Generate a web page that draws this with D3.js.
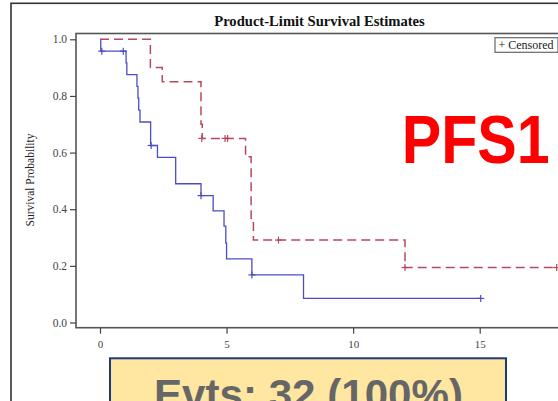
<!DOCTYPE html>
<html>
<head>
<meta charset="utf-8">
<script src="https://cdn.jsdelivr.net/npm/d3@7/dist/d3.min.js"></script>
<style>
  html, body { margin: 0; padding: 0; background: #fff; }
  svg { display: block; }
</style>
</head>
<body>
<svg id="chart" width="558" height="401"></svg>
<script>
// Kaplan-Meier step points: [time, survival after that time]
const armBSteps = [
  [0, 1.0], [0.03, 0.958], [1.03, 0.917], [1.06, 0.875], [1.46, 0.834],
  [1.50, 0.792], [1.53, 0.75], [1.58, 0.708], [2.0, 0.625], [2.27, 0.583],
  [2.99, 0.49], [3.99, 0.448], [4.47, 0.394], [4.9, 0.34], [4.97, 0.28],
  [5.0, 0.225], [6.0, 0.168], [8.04, 0.085], [15.04, 0.085]
];
const armBCensored = [
  [0.07, 0.958], [0.92, 0.958], [2.02, 0.625], [3.99, 0.448], [6.0, 0.168], [15.04, 0.085]
];
const armASteps = [
  [0, 1.0], [1.99, 0.9], [2.46, 0.85], [3.99, 0.70], [4.04, 0.65],
  [5.75, 0.585], [5.97, 0.368], [6.06, 0.291], [12.05, 0.194], [18.04, 0.194]
];
const armACensored = [
  [4.02, 0.65], [4.94, 0.65], [5.04, 0.65], [7.05, 0.291], [12.05, 0.194], [18.04, 0.194]
];
const xTicks = [0, 5, 10, 15];
const yTicks = [0, 0.2, 0.4, 0.6, 0.8, 1.0];

const titleText = "Product-Limit Survival Estimates";
const yTitle = "Survival Probability";
const legendText = "+ Censored";
const badgeText = "PFS1";
const eventsText = "Evts: 32 (100%)";

const blue = "#4c4cc8";
const red = "#b9485c";
const serif = "'Liberation Serif', 'DejaVu Serif', serif";
const sans = "'Liberation Sans', Arial, sans-serif";

const svg = d3.select("#chart");

const x = d3.scaleLinear().domain([0, 15]).range([100, 479.7]);
const y = d3.scaleLinear().domain([0, 1]).range([322.5, 39.3]);

// page frame
svg.append("rect")
  .attr("x", 11).attr("y", 3.3).attr("width", 600).attr("height", 450)
  .attr("fill", "#fff").attr("stroke", "#333").attr("stroke-width", 1.6);

// title
svg.append("text")
  .attr("x", 319.5).attr("y", 26)
  .attr("text-anchor", "middle")
  .attr("font-family", serif).attr("font-weight", "bold").attr("font-size", 14.6)
  .attr("fill", "#111")
  .text(titleText);

// plot frame
const frame = { left: 76, top: 33.5, bottom: 327.7, right: 600 };
svg.append("rect")
  .attr("x", frame.left).attr("y", frame.top)
  .attr("width", frame.right - frame.left).attr("height", frame.bottom - frame.top)
  .attr("fill", "none").attr("stroke", "#555").attr("stroke-width", 1.6);

// y axis
const yAxis = svg.append("g")
  .attr("transform", `translate(${frame.left},0)`)
  .call(d3.axisLeft(y).tickValues(yTicks).tickFormat(d3.format(".1f")).tickSize(6).tickPadding(3));
yAxis.select(".domain").remove();
yAxis.selectAll("line").attr("stroke", "#444").attr("stroke-width", 1.2);
yAxis.selectAll("text")
  .attr("font-family", serif).attr("font-size", 11.5).attr("fill", "#444");

// x axis
const xAxis = svg.append("g")
  .attr("transform", `translate(0,${frame.bottom})`)
  .call(d3.axisBottom(x).tickValues(xTicks).tickSize(6).tickPadding(7));
xAxis.select(".domain").remove();
xAxis.selectAll("line").attr("stroke", "#444").attr("stroke-width", 1.2);
xAxis.selectAll("text")
  .attr("font-family", serif).attr("font-size", 11).attr("fill", "#444");

// y axis title
svg.append("text")
  .attr("transform", "translate(34,180) rotate(-90)")
  .attr("text-anchor", "middle")
  .attr("font-family", serif).attr("font-size", 11.5).attr("fill", "#222")
  .text(yTitle);

// survival curves
const stepLine = d3.line()
  .x(d => x(d[0])).y(d => y(d[1]))
  .curve(d3.curveStepAfter);

svg.append("path")
  .datum(armBSteps)
  .attr("d", stepLine)
  .attr("fill", "none").attr("stroke", blue).attr("stroke-width", 1.3);

svg.append("path")
  .datum(armASteps)
  .attr("d", stepLine)
  .attr("fill", "none").attr("stroke", red).attr("stroke-width", 1.5)
  .attr("stroke-dasharray", "9,5");

// censor marks
function drawCensors(data, color) {
  const g = svg.append("g").attr("stroke", color).attr("stroke-width", 1.2);
  data.forEach(d => {
    const cx = x(d[0]), cy = y(d[1]);
    g.append("line").attr("x1", cx - 3.5).attr("x2", cx + 3.5).attr("y1", cy).attr("y2", cy);
    g.append("line").attr("x1", cx).attr("x2", cx).attr("y1", cy - 3.5).attr("y2", cy + 3.5);
  });
}
drawCensors(armBCensored, blue);
drawCensors(armACensored, red);

// legend
svg.append("rect")
  .attr("x", 495).attr("y", 37.7).attr("width", 63).attr("height", 14.6)
  .attr("fill", "#fff").attr("stroke", "#666").attr("stroke-width", 1.2);
svg.append("text")
  .attr("x", 498.5).attr("y", 49.3)
  .attr("font-family", serif).attr("font-size", 12).attr("fill", "#222")
  .text(legendText);

// badge
svg.append("text")
  .attr("x", 401.7).attr("y", 163.3)
  .attr("font-family", sans).attr("font-weight", "bold").attr("font-size", 68)
  .attr("fill", "#ff0000")
  .attr("textLength", 148).attr("lengthAdjust", "spacingAndGlyphs")
  .text(badgeText);

// events box
svg.append("rect")
  .attr("x", 110).attr("y", 358.3).attr("width", 396).attr("height", 60)
  .attr("fill", "#ffe6a1").attr("stroke", "#1f3a78").attr("stroke-width", 2);
svg.append("text")
  .attr("x", 154).attr("y", 409)
  .attr("font-family", sans).attr("font-weight", "bold").attr("font-size", 42)
  .attr("fill", "#666")
  .attr("textLength", 309).attr("lengthAdjust", "spacingAndGlyphs")
  .text(eventsText);
</script>
</body>
</html>
